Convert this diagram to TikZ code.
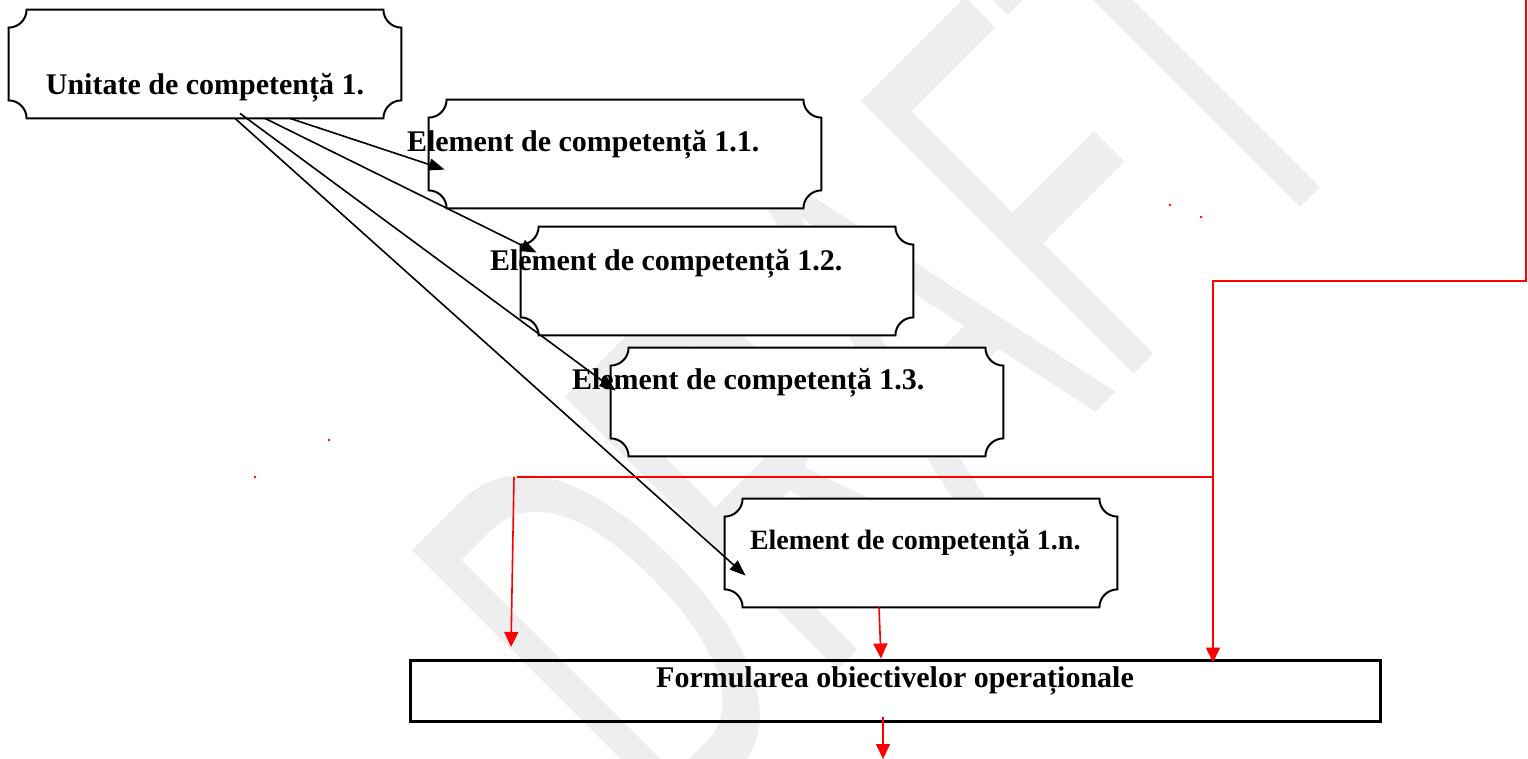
\documentclass[tikz,border=0pt]{standalone}
\usepackage{fontspec}
\setmainfont{Liberation Serif}
\newfontfamily\wmfont{Liberation Sans}
\usetikzlibrary{calc,arrows.meta}
\tikzset{
    plaque/.style = {
        minimum width=196pt,
        minimum height=54pt,
        inner sep=0pt,
        },
    plaque line/.style = {
        draw,
        line width=1pt,
        fill = white,
        },
    boxtext/.style = {
        font=\fontsize{15pt}{18pt}\selectfont\bfseries,
        inner sep=0pt,
        },
    small boxtext/.style = {
        font=\fontsize{14pt}{17pt}\selectfont\bfseries,
        inner sep=0pt,
        },
    link/.style = {
        -{Triangle[length=8pt,width=6pt]},
        line width=0.8pt,
        },
    red line/.style = {
        draw=red,
        line width=0.8pt,
        },
    red link/.style = {
        red line,
        -{Triangle[length=7.5pt,width=7pt]},
        },
    watermark/.style = {
        text = gray!13,
        inner sep=0pt,
        font=\wmfont\fontsize{280pt}{280pt}\selectfont,
        },
}

\begin{document}
\begin{tikzpicture}[x=0.5pt, y=0.5pt]
            \useasboundingbox (0,0) rectangle (1528,-759);
            \fill[white] (0,0) rectangle (1528,-759);
            \clip (0,0) rectangle (1528,-759);

            \node[watermark, rotate=45, xscale=0.537, anchor=base west] (wm) at (667,-841) {DRAFT};

            \node[plaque] (u) at (205,-64) {};
            \node[plaque] (e1) at (625,-154) {};
            \node[plaque] (e2) at (717,-281) {};
            \node[plaque] (e3) at (807,-402) {};
            \node[plaque] (en) at (921,-553) {};
            \node[draw, line width=1.5pt, minimum width=485pt, minimum height=30.5pt, inner sep=0pt] (out) at (895,-690.5) {};

            \foreach \b in {u,e1,e2,e3,en}
                \draw[plaque line] ($(\b.north west)+(9pt,0)$) -- ($(\b.north east)+(-9pt,0)$)
                    arc[start angle=180, end angle=270, radius=9pt] -- ($(\b.south east)+(0,9pt)$)
                    arc[start angle=90, end angle=180, radius=9pt] -- ($(\b.south west)+(9pt,0)$)
                    arc[start angle=0, end angle=90, radius=9pt] -- ($(\b.north west)+(0,-9pt)$)
                    arc[start angle=270, end angle=360, radius=9pt] -- cycle;

            \node[boxtext, anchor=base] (tu) at ($(u.south)+(0,24)$) {Unitate de competență 1.};
            \node[boxtext, anchor=base west] (t1) at ($(e1.north west)+(-22,-52)$) {Element de competență 1.1.};
            \node[boxtext, anchor=base west] (t2) at ($(e2.north west)+(-31,-44)$) {Element de competență 1.2.};
            \node[boxtext, anchor=base west] (t3) at ($(e3.north west)+(-39,-42)$) {Element de competență 1.3.};
            \node[small boxtext, anchor=base west] (tn) at ($(en.north west)+(25,-51)$) {Element de competență 1.n.};
            \node[boxtext, anchor=base] (tout) at ($(out.north)+(0,-29)$) {Formularea obiectivelor operaționale};

            \draw[link] ($(u.south)+(85,0)$) -- ($(e1.north west)+(16,-70)$);
            \draw[link] ($(u.south)+(60,0)$) -- ($(e2.north west)+(16,-26)$);
            \draw[link] ($(u.south)+(35,5)$) -- ($(e3.north west)+(5,-43)$);
            \draw[link] ($(u.south)+(30,0)$) -- ($(en.north west)+(21,-77)$);

            \coordinate (top right) at (1526,0);
            \coordinate (bend) at (1213,-281);
            \coordinate (split) at (1213,-477);
            \coordinate (left drop) at (514,-477);
            \coordinate (left end) at (511,-647);
            \coordinate (page end) at (883,-759);

            \draw[red link] (top right) |- (bend) -- ($(bend |- out.north)+(0,-4)$);
            \draw[red line] (split) -- ($(left drop)+(3,0)$);
            \draw[red link] (left drop) -- (left end);
            \draw[red link] ($(en.south)+(-42,0)$) -- ($(out.north)+(-14,0)$);
            \draw[red link] ($(out.south)+(-12,6)$) -- (page end);

            \foreach \x/\y in {1170/-205, 1201/-217, 329/-440, 255/-477}
                \fill[red] (\x,\y) circle[radius=0.7pt];
        \end{tikzpicture}
\end{document}
